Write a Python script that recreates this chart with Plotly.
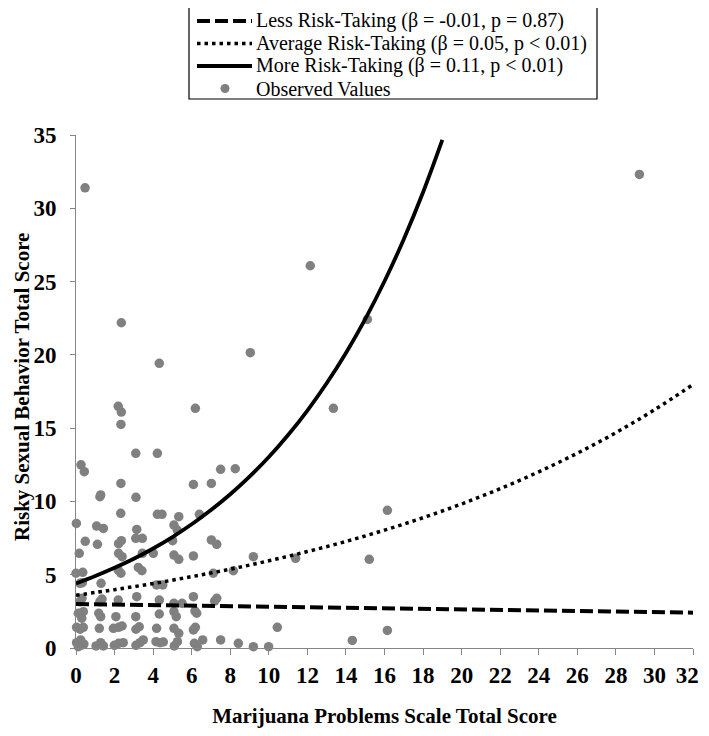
import plotly.graph_objects as go

obs_x = [0.47, 29.22, 12.15, 2.35, 15.11, 9.04, 4.32, 2.19, 2.35, 6.19, 13.35, 2.33,
         3.10, 4.22, 0.26, 0.43, 7.50, 8.26, 2.33, 6.09, 7.02, 1.24, 1.28, 3.11,
         0.02, 2.32, 4.22, 4.46, 5.33, 6.40, 1.07, 1.42, 3.15, 5.08, 5.25, 0.48,
         1.11, 2.35, 2.21, 3.10, 3.44, 5.01, 7.02, 7.30, 0.17, 2.21, 2.39, 3.44,
         4.01, 5.08, 5.33, 6.09, 9.20, 11.39, 15.21, 16.15, 3.23, 3.42, 0.00, 0.35,
         2.19, 2.33, 7.12, 8.16, 0.21, 0.33, 1.30, 4.18, 4.50, 0.31, 0.21, 1.24,
         1.35, 2.19, 3.15, 4.32, 5.08, 5.50, 6.09, 7.19, 7.30, 0.12, 0.38, 0.30,
         1.18, 1.28, 2.07, 3.10, 4.32, 5.08, 5.20, 6.17, 6.26, 0.03, 0.21, 0.38,
         1.21, 1.94, 2.21, 2.39, 3.28, 3.11, 4.18, 5.08, 5.33, 6.09, 6.19, 10.44,
         16.15, 14.33, 0.03, 0.24, 0.41, 0.12, 0.30, 1.04, 1.28, 1.42, 1.99, 2.21,
         2.45, 3.11, 3.32, 3.49, 4.15, 4.36, 4.53, 5.10, 5.26, 6.14, 6.29, 6.57,
         7.50, 8.42, 9.20, 9.99]
obs_y = [31.40, 32.31, 26.08, 22.19, 22.42, 20.15, 19.42, 16.49, 16.10, 16.35, 16.35, 15.25,
         13.28, 13.28, 12.50, 12.03, 12.19, 12.23, 11.23, 11.16, 11.23, 10.32, 10.44, 10.28,
         8.50, 9.19, 9.12, 9.12, 8.96, 9.12, 8.32, 8.16, 8.09, 8.39, 8.05, 7.28,
         7.07, 7.32, 7.12, 7.48, 7.48, 7.32, 7.37, 7.07, 6.46, 6.46, 6.23, 6.46,
         6.46, 6.34, 6.05, 6.28, 6.23, 6.12, 6.05, 9.39, 5.50, 5.27, 5.10, 5.16,
         5.32, 5.10, 5.10, 5.27, 4.41, 4.46, 4.41, 4.30, 4.30, 3.39, 3.16, 3.16,
         3.34, 3.27, 3.50, 3.27, 3.05, 3.05, 3.50, 3.20, 3.39, 2.37, 2.48, 2.03,
         2.37, 2.14, 2.14, 2.14, 2.32, 2.48, 2.14, 2.52, 2.37, 1.41, 1.28, 1.41,
         1.34, 1.34, 1.41, 1.50, 1.45, 1.28, 1.34, 1.34, 1.00, 1.23, 1.41, 1.41,
         1.20, 0.52, 0.36, 0.55, 0.27, 0.09, 0.20, 0.14, 0.36, 0.14, 0.18, 0.32,
         0.36, 0.18, 0.36, 0.55, 0.43, 0.36, 0.41, 0.14, 0.43, 0.32, 0.09, 0.55,
         0.55, 0.32, 0.09, 0.09]

# Model lines
less_x = [0, 4, 8, 12, 16, 20, 24, 28, 32]
less_y = [3.00, 2.92, 2.84, 2.76, 2.68, 2.61, 2.54, 2.47, 2.41]

avg_x = [0, 2, 4, 6, 8, 10, 12, 14, 16, 18, 20, 22, 24, 26, 28, 30, 32]
avg_y = [3.60, 3.98, 4.40, 4.87, 5.38, 5.95, 6.58, 7.27, 8.04, 8.89, 9.83, 10.87,
         12.02, 13.29, 14.69, 16.25, 17.97]

more_x = list(range(0, 20))
more_y = [4.40, 4.91, 5.47, 6.09, 6.79, 7.57, 8.44, 9.41, 10.49, 11.69, 13.03, 14.53,
          16.20, 18.06, 20.13, 22.44, 25.02, 27.89, 31.09, 34.66]

labels = ["Less Risk-Taking (β = -0.01, p = 0.87)",
          "Average Risk-Taking (β = 0.05, p < 0.01)",
          "More Risk-Taking (β = 0.11, p < 0.01)",
          "Observed Values"]
x_title = "Marijuana Problems Scale Total Score"
y_title = "Risky Sexual Behavior Total Score"

x_ticks = list(range(0, 33, 2))
x_tick_labels = [str(v) for v in x_ticks]
y_ticks = list(range(0, 36, 5))

FONT = "Liberation Serif, Times New Roman, serif"
AXIS_GREY = "#868686"
DOT_GREY = "#808080"

# The page has an 8px body margin, so the figure starts at (8, 8) in the window.
# Keep the figure small enough that the page never scrolls.
OFF = 8
W, H = 709 - OFF, 736 - 2 * OFF
PL, PR, PT, PB = 76, 693, 135, 648          # plot area in window pixels
ML, MT = PL - OFF, PT - OFF
MR, MB = W - (PR - OFF), H - (PB - OFF)
PW, PH = PR - PL, PB - PT


def px(xp):
    return (xp - PL) / PW


def py(yp):
    return (PB - yp) / PH


# the last label sits at the right edge of the window; a trailing en space
# nudges it left so it is not cut off
shown_x_labels = x_tick_labels[:-1] + [x_tick_labels[-1] + "\u2002"]

line_styles = [dict(color="black", width=4, dash="13px,5px"),
               dict(color="black", width=3.5, dash="3.5px,4px"),
               dict(color="black", width=3.8)]

fig = go.Figure()
fig.add_trace(go.Scatter(x=obs_x, y=obs_y, mode="markers", name=labels[3],
                         marker=dict(color=DOT_GREY, size=9.5, line=dict(width=0)),
                         cliponaxis=False))
fig.add_trace(go.Scatter(x=less_x, y=less_y, mode="lines", name=labels[0],
                         line=line_styles[0]))
fig.add_trace(go.Scatter(x=avg_x, y=avg_y, mode="lines", name=labels[1],
                         line=dict(**line_styles[1], shape="spline")))
fig.add_trace(go.Scatter(x=more_x, y=more_y, mode="lines", name=labels[2],
                         line=dict(**line_styles[2], shape="spline")))

# Legend drawn by hand to match the original box geometry
row_y = [21, 43.5, 66, 88.5]
shapes = [dict(type="rect", xref="paper", yref="paper",
               x0=px(189), x1=px(597), y0=py(99), y1=py(3),
               line=dict(color="black", width=1.2), fillcolor="white", layer="above")]
annotations = []
for i in range(3):
    shapes.append(dict(type="line", xref="paper", yref="paper",
                       x0=px(197), x1=px(252), y0=py(row_y[i]), y1=py(row_y[i]),
                       line=line_styles[i], layer="above"))
shapes.append(dict(type="circle", xref="paper", yref="paper",
                   x0=px(220.5), x1=px(229.5), y0=py(row_y[3] + 4.5), y1=py(row_y[3] - 4.5),
                   line=dict(width=0), fillcolor=DOT_GREY, layer="above"))
for i in range(4):
    annotations.append(dict(xref="paper", yref="paper", x=px(254), y=py(row_y[i]),
                            xanchor="left", yanchor="middle", showarrow=False,
                            text=labels[i],
                            font=dict(family=FONT, size=20, color="black")))

# Y-axis title placed as rotated text
annotations.append(dict(xref="paper", yref="paper", x=px(22), y=py(387),
                        xanchor="center", yanchor="middle", showarrow=False,
                        textangle=-90, text=y_title, borderpad=0,
                        font=dict(family=FONT, size=21, color="black", weight="bold")))

fig.update_layout(
    width=W, height=H,
    margin=dict(l=ML, r=MR, t=MT, b=MB),
    paper_bgcolor="white", plot_bgcolor="white",
    font=dict(family=FONT, color="black"),
    showlegend=False,
    shapes=shapes,
    annotations=annotations,
    xaxis=dict(range=[0, 32], tickvals=x_ticks, ticktext=shown_x_labels,
               showgrid=False, zeroline=False, automargin=False,
               showline=True, linecolor=AXIS_GREY, linewidth=1,
               ticks="outside", ticklen=6, tickcolor=AXIS_GREY,
               tickfont=dict(family=FONT, size=23, color="black", weight="bold"),
               ticklabelstandoff=0, ticklabeloverflow="allow",
               title=dict(text=x_title,
                          font=dict(family=FONT, size=21, color="black", weight="bold"),
                          standoff=24)),
    yaxis=dict(range=[0, 35], tickvals=y_ticks, showgrid=False, zeroline=False,
               automargin=False,
               showline=True, linecolor=AXIS_GREY, linewidth=1,
               ticks="outside", ticklen=5, tickcolor=AXIS_GREY,
               tickfont=dict(family=FONT, size=23, color="black", weight="bold"),
               ticklabelstandoff=9),
)

fig.write_html("out.html")
